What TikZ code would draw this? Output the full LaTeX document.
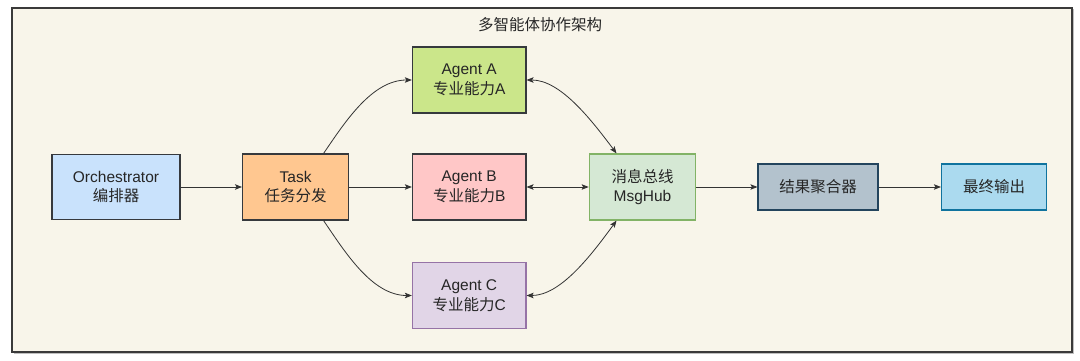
\documentclass[tikz,border=0pt]{standalone}
\usepackage{fontspec}
\setmainfont{Liberation Sans}
\newfontfamily\cjk{Noto Sans CJK SC}
\usetikzlibrary{arrows.meta}
\definecolor{bgc}{HTML}{F8F5EA}
\definecolor{framec}{HTML}{3A3A3A}
\definecolor{darkc}{HTML}{36393D}
\definecolor{orchf}{HTML}{C9E2FC}
\definecolor{taskf}{HTML}{FFC790}
\definecolor{af}{HTML}{CBE68A}
\definecolor{bf}{HTML}{FFC7C7}
\definecolor{cf}{HTML}{E1D5E7}
\definecolor{cd}{HTML}{9673A6}
\definecolor{mf}{HTML}{D5E8D4}
\definecolor{md}{HTML}{82B366}
\definecolor{gf}{HTML}{B3C2CD}
\definecolor{gd}{HTML}{23445D}
\definecolor{of}{HTML}{ABDAEF}
\definecolor{od}{HTML}{10739E}
\tikzset{
  box/.style={draw=darkc, line width=1.2pt, inner sep=0pt, align=center,
    font=\fontsize{15.5}{19.5}\selectfont, text=black!85},
  conn/.style={draw=black!80, line width=0.8pt, -{Stealth[length=7pt,width=5.5pt,inset=1.5pt]}},
  biconn/.style={draw=black!80, line width=0.8pt, {Stealth[length=7pt,width=5.5pt,inset=1.5pt]}-{Stealth[length=7pt,width=5.5pt,inset=1.5pt]}}
}
\begin{document}
\begin{tikzpicture}[x=1pt,y=-1pt]
\useasboundingbox (0,0) rectangle (1080,361);
\fill[black!25] (13.5,9.5) rectangle (1073.5,353.5);
\draw[framec, fill=bgc, line width=1.3pt] (12,8) rectangle (1072,352);
\node[font=\fontsize{15.5}{19}\selectfont\cjk, text=black!85] (title) at (540,25) {多智能体协作架构};
\node[box, fill=orchf, minimum width=128pt, minimum height=65pt] (orch) at (116,187) {Orchestrator\\{\cjk 编排器}};
\node[box, fill=taskf, minimum width=106pt, minimum height=66pt] (task) at (295.6,187) {Task\\{\cjk 任务分发}};
\node[box, fill=af, minimum width=113.5pt, minimum height=66pt] (aga) at (469.2,80) {Agent A\\{\cjk 专业能力}A};
\node[box, fill=bf, minimum width=113.5pt, minimum height=66pt] (agb) at (469.2,187) {Agent B\\{\cjk 专业能力}B};
\node[box, draw=cd, fill=cf, minimum width=113.5pt, minimum height=66pt] (agc) at (469.2,295.5) {Agent C\\{\cjk 专业能力}C};
\node[box, draw=md, fill=mf, minimum width=106.5pt, minimum height=66pt] (msg) at (642.5,187) {{\cjk 消息总线}\\MsgHub};
\node[box, draw=gd, fill=gf, minimum width=120pt, minimum height=46pt] (agg) at (818,187) {\cjk 结果聚合器};
\node[box, draw=od, fill=of, minimum width=105pt, minimum height=46pt] (out) at (994,187) {\cjk 最终输出};
\coordinate (tn) at ([xshift=28pt]task.north);
\coordinate (ts) at ([xshift=28pt]task.south);
\coordinate (mn) at ([xshift=-26pt]msg.north);
\coordinate (ms) at ([xshift=-26pt]msg.south);
\draw[conn] (orch.east) -- (task.west);
\draw[conn] (task.east) -- (agb.west);
\draw[biconn] (agb.east) -- (msg.west);
\draw[conn] (msg.east) -- (agg.west);
\draw[conn] (agg.east) -- (out.west);
\draw[conn] (tn) .. controls (345,122) and (372,80) .. (aga.west);
\draw[conn] (ts) .. controls (345,252) and (372,295.5) .. (agc.west);
\draw[biconn] (aga.east) .. controls (560,80) and (590,118) .. (mn);
\draw[biconn] (agc.east) .. controls (560,295.5) and (590,257) .. (ms);
\end{tikzpicture}
\end{document}
